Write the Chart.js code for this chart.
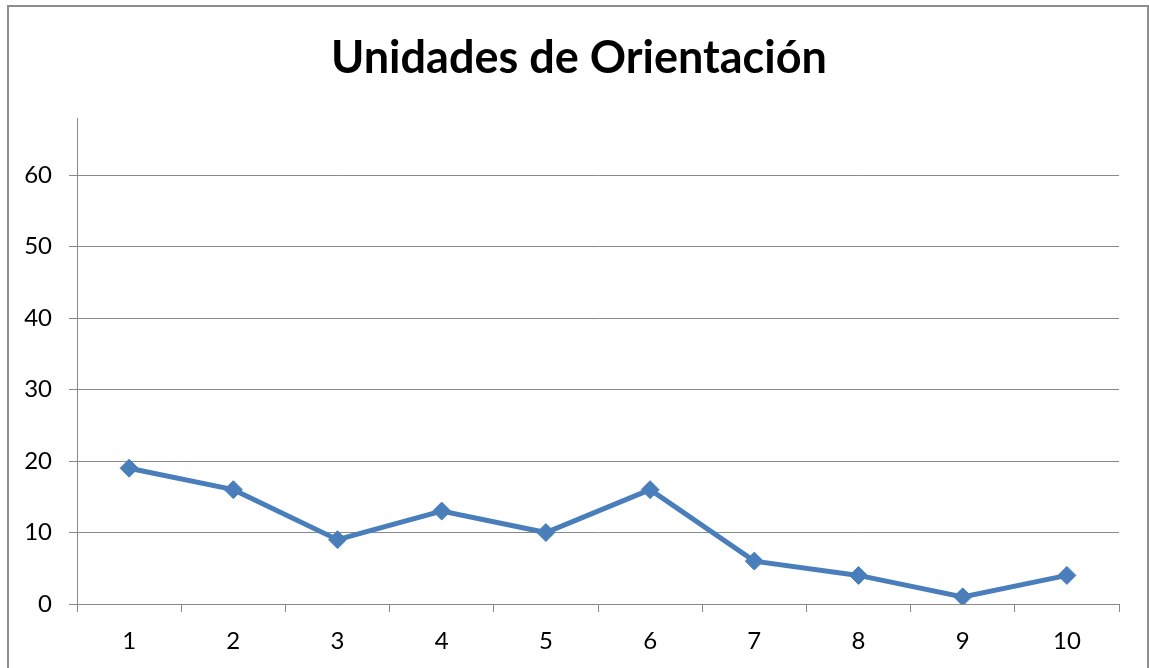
<!DOCTYPE html>
<html>
<head>
<meta charset="utf-8">
<script src="https://cdn.jsdelivr.net/npm/chart.js@4"></script>
<style>
  html,body{margin:0;padding:0;background:#fff;overflow:hidden;}
  #frame{position:absolute;left:7px;top:5px;width:1142px;height:700px;box-sizing:border-box;
         border:2px solid #8c8c8c;border-bottom:none;}
  #chart{position:absolute;left:0;top:0;}
</style>
</head>
<body>
<div id="frame"></div>
<canvas id="chart" width="1149" height="668"></canvas>
<script>
// data
const categories = ['1','2','3','4','5','6','7','8','9','10'];
const unidades   = [19,16,9,13,10,16,6,4,1,4];
const yMax = 68;
const chartTitle = 'Unidades de Orientación';

const lineColor = '#4a7ebb';
const gridColor = '#898989';
const font = 'Lato, "Open Sans", sans-serif';

// title drawn centred on the frame, not on the plot
const titlePlugin = {
  id: 'frameTitle',
  afterDraw(chart) {
    const c = chart.ctx;
    c.save();
    c.font = `bold 45px ${font}`;
    c.fillStyle = '#000';
    c.textAlign = 'center';
    c.textBaseline = 'alphabetic';
    c.fillText(chartTitle, 579, 73);
    c.restore();
  }
};

new Chart(document.getElementById('chart').getContext('2d'), {
  type: 'line',
  data: {
    labels: categories,
    datasets: [{
      label: chartTitle,
      data: unidades,
      borderColor: lineColor,
      backgroundColor: lineColor,
      borderWidth: 5,
      pointStyle: 'rectRot',
      pointRadius: 9,
      pointBorderWidth: 1,
      tension: 0
    }]
  },
  plugins: [titlePlugin],
  options: {
    responsive: false,
    animation: false,
    layout: { padding: { left: 0, right: 30, top: 118, bottom: 16 } },
    plugins: {
      legend: { display: false },
      tooltip: { enabled: false },
      title: { display: false }
    },
    scales: {
      x: {
        offset: true,
        afterFit: s => { s.height = 48; },
        grid: { offset: true, drawOnChartArea: false, color: gridColor, tickLength: 8, lineWidth: 1 },
        border: { color: gridColor, width: 1 },
        ticks: { color: '#000', padding: 15, font: { family: font, size: 24 } }
      },
      y: {
        min: 0,
        max: yMax,
        afterBuildTicks: s => { s.ticks = s.ticks.filter(t => t.value % 10 === 0); },
        afterFit: s => { s.width = 77; },
        grid: { color: gridColor, tickLength: 8, lineWidth: 1 },
        border: { color: gridColor, width: 1 },
        ticks: { stepSize: 10, color: '#000', padding: 17, font: { family: font, size: 24 } }
      }
    }
  }
});
</script>
</body>
</html>
